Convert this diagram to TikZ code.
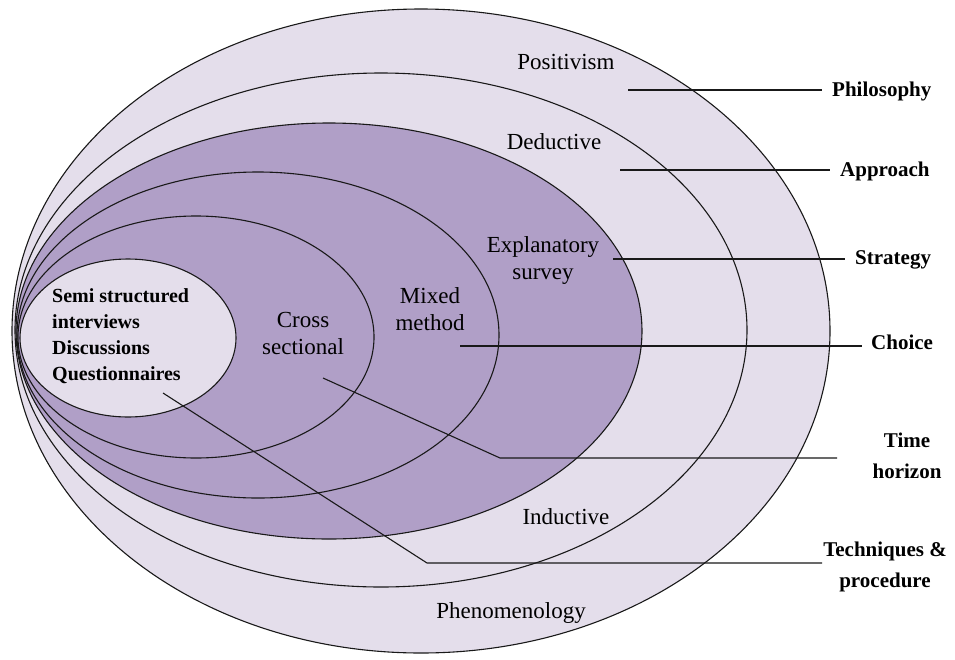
\documentclass[tikz,border=0pt]{standalone}
\usepackage{fontspec}
\setmainfont{Liberation Serif}
\definecolor{lavlight}{HTML}{E4DEEB}
\definecolor{lavdark}{HTML}{B09FC7}
\begin{document}
\begin{tikzpicture}[x=1pt,y=-1pt,
  ring/.style={draw=black!90,line width=1.1pt},
  conn/.style={draw=black!90,line width=1.1pt},
  layer/.style={font=\fontsize{23}{27}\selectfont,align=center,inner sep=0pt},
  lab/.style={font=\fontsize{21}{31}\selectfont\bfseries,align=center,inner sep=0pt},
  tech/.style={font=\fontsize{20}{26}\selectfont\bfseries,align=left,inner sep=0pt}]
\useasboundingbox (0,0) rectangle (955,659);

% nested research layers
\path[ring,fill=lavlight] (421,331) ellipse [x radius=409pt,y radius=322pt];
\path[ring,fill=lavlight] (381,330) ellipse [x radius=366pt,y radius=257pt];
\path[ring,fill=lavdark]  (329,331) ellipse [x radius=313pt,y radius=208pt];
\path[ring,fill=lavdark]  (258,335) ellipse [x radius=241pt,y radius=163pt];
\path[ring,fill=lavdark]  (196,337) ellipse [x radius=178pt,y radius=121pt];
\path[ring,fill=lavlight] (128,338) ellipse [x radius=108pt,y radius=79pt];

% layer contents
\node[layer] (pos) at (566,62) {Positivism};
\node[layer] (ded) at (554,142) {Deductive};
\node[layer] (exp) at (543,260) {Explanatory\\survey};
\node[layer] (mix) at (430,309) {Mixed\\method};
\node[layer] (cro) at (303,333) {Cross\\sectional};
\node[layer] (ind) at (566,517) {Inductive};
\node[layer] (phe) at (511,613) {Phenomenology};
\node[tech,anchor=west] (tec) at (52,336) {Semi structured\\interviews\\Discussions\\Questionnaires};

% layer names
\node[lab,anchor=west] (phil) at (832,91) {Philosophy};
\node[lab,anchor=west] (appr) at (840,171) {Approach};
\node[lab,anchor=west] (strat) at (855,260) {Strategy};
\node[lab,anchor=west] (cho) at (871,342) {Choice};
\node[lab] (time) at (907,456) {Time\\horizon};
\node[lab] (proc) at (885,567) {Techniques \&\\procedure};

% connector end points
\coordinate (philS) at (628,90);   \coordinate (philE) at (822,90);
\coordinate (apprS) at (620,170);  \coordinate (apprE) at (830,170);
\coordinate (stratS) at (613,259); \coordinate (stratE) at (845,259);
\coordinate (choS) at (460,346);   \coordinate (choE) at (862,346);
\coordinate (timeS) at (323,378);  \coordinate (timeB) at (500,458);
\coordinate (timeE) at (837,458);
\coordinate (procS) at (163,393);  \coordinate (procB) at (427,563);
\coordinate (procE) at (822,563);

\draw[conn] (philS) -- (philE);
\draw[conn] (apprS) -- (apprE);
\draw[conn] (stratS) -- (stratE);
\draw[conn] (choS) -- (choE);
\draw[conn] (timeS) -- (timeB) -- (timeE);
\draw[conn] (procS) -- (procB) -- (procE);
\end{tikzpicture}
\end{document}
